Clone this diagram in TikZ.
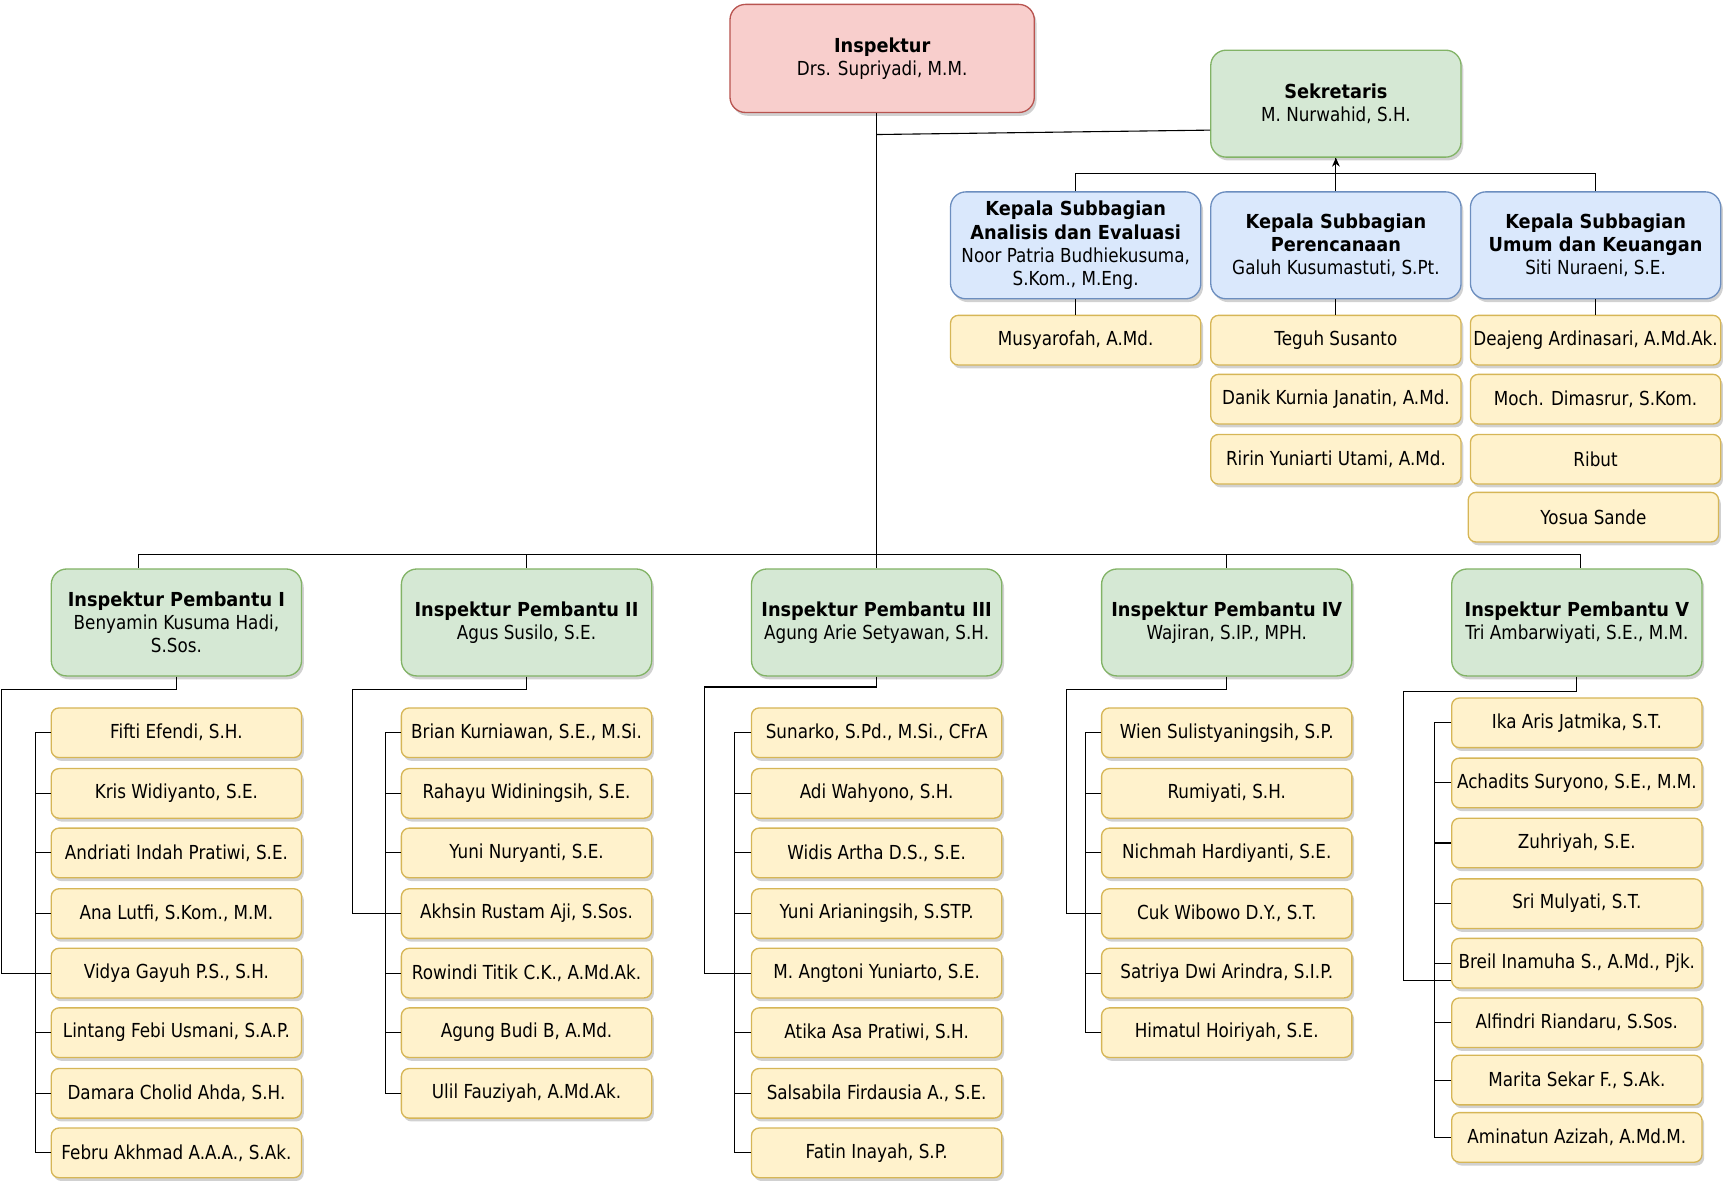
\documentclass[tikz,border=0pt]{standalone}
\usepackage{fontspec}
\setmainfont{DejaVu Sans}[UprightFeatures={FakeStretch=0.87},BoldFeatures={FakeStretch=0.92}]
\usetikzlibrary{arrows.meta,shadows}
\definecolor{insfill}{HTML}{F8CECC}
\definecolor{insline}{HTML}{B85450}
\definecolor{ipfill}{HTML}{D5E8D4}
\definecolor{ipline}{HTML}{82B366}
\definecolor{ksfill}{HTML}{DAE8FC}
\definecolor{ksline}{HTML}{6C8EBF}
\definecolor{stfill}{HTML}{FFF2CC}
\definecolor{stline}{HTML}{D6B656}

\begin{document}
\begin{tikzpicture}[x=0.5pt,y=-0.5pt,
  every node/.style={font=\fontsize{8.75}{10.5}\selectfont,align=center,inner sep=1pt},
  box/.style={draw,line width=.6pt,rounded corners=#1,
    drop shadow={shadow xshift=1pt,shadow yshift=-1.5pt,opacity=.18,fill=black}},
  insbox/.style={box=7pt,fill=insfill,draw=insline,minimum width=138pt,minimum height=49pt},
  ipbox/.style={box=7pt,fill=ipfill,draw=ipline,minimum width=113.5pt,minimum height=48.5pt},
  ksbox/.style={box=7pt,fill=ksfill,draw=ksline,minimum width=113.5pt,minimum height=48.5pt},
  staffbox/.style={box=3.5pt,fill=stfill,draw=stline,minimum width=113.5pt,minimum height=22.5pt},
  link/.style={line width=.5pt}]
\useasboundingbox (0,0) rectangle (1568,1076);

% top level
\node[insbox] (insp) at (800,53) {\textbf{Inspektur}\\Drs. Supriyadi, M.M.};
\node[ipbox] (sek) at (1211.5,94) {\textbf{Sekretaris}\\M. Nurwahid, S.H.};
\node[ksbox] (kana) at (975.5,222.5) {\textbf{Kepala Subbagian}\\\textbf{Analisis dan Evaluasi}\\Noor Patria Budhiekusuma,\\S.Kom., M.Eng.};
\node[ksbox] (kper) at (1211.5,222.5) {\textbf{Kepala Subbagian}\\\textbf{Perencanaan}\\Galuh Kusumastuti, S.Pt.};
\node[ksbox] (kumu) at (1447,222.5) {\textbf{Kepala Subbagian}\\\textbf{Umum dan Keuangan}\\Siti Nuraeni, S.E.};
\node[staffbox] (tana1) at (975.5,308.5) {Musyarofah, A.Md.};
\node[staffbox] (tper1) at (1211.5,308.5) {Teguh Susanto};
\node[staffbox] (tper2) at (1211.5,362) {Danik Kurnia Janatin, A.Md.};
\node[staffbox] (tper3) at (1211.5,416.5) {Ririn Yuniarti Utami, A.Md.};
\node[staffbox] (tumu1) at (1447,308.5) {Deajeng Ardinasari, A.Md.Ak.};
\node[staffbox] (tumu2) at (1447,362) {Moch. Dimasrur, S.Kom.};
\node[staffbox] (tumu3) at (1447,416.5) {Ribut};
\node[staffbox] (tumu4) at (1445,469) {Yosua Sande};

% inspektur pembantu
\node[ipbox] (ip1) at (160,564.5) {\textbf{Inspektur Pembantu I}\\Benyamin Kusuma Hadi,\\S.Sos.};
\node[ipbox] (ip2) at (477.5,564.5) {\textbf{Inspektur Pembantu II}\\Agus Susilo, S.E.};
\node[ipbox] (ip3) at (795,564.5) {\textbf{Inspektur Pembantu III}\\Agung Arie Setyawan, S.H.};
\node[ipbox] (ip4) at (1112.5,564.5) {\textbf{Inspektur Pembantu IV}\\Wajiran, S.IP., MPH.};
\node[ipbox] (ip5) at (1430,564.5) {\textbf{Inspektur Pembantu V}\\Tri Ambarwiyati, S.E., M.M.};

% staf irban I
\node[staffbox] (a1) at (160,664.5) {Fifti Efendi, S.H.};
\node[staffbox] (a2) at (160,719.5) {Kris Widiyanto, S.E.};
\node[staffbox] (a3) at (160,773.5) {Andriati Indah Pratiwi, S.E.};
\node[staffbox] (a4) at (160,828.5) {Ana Lutfi, S.Kom., M.M.};
\node[staffbox] (a5) at (160,882.5) {Vidya Gayuh P.S., S.H.};
\node[staffbox] (a6) at (160,936.5) {Lintang Febi Usmani, S.A.P.};
\node[staffbox] (a7) at (160,991.5) {Damara Cholid Ahda, S.H.};
\node[staffbox] (a8) at (160,1045.5) {Febru Akhmad A.A.A., S.Ak.};
% staf irban II
\node[staffbox] (b1) at (477.5,664.5) {Brian Kurniawan, S.E., M.Si.};
\node[staffbox] (b2) at (477.5,719.5) {Rahayu Widiningsih, S.E.};
\node[staffbox] (b3) at (477.5,773.5) {Yuni Nuryanti, S.E.};
\node[staffbox] (b4) at (477.5,828.5) {Akhsin Rustam Aji, S.Sos.};
\node[staffbox] (b5) at (477.5,882.5) {Rowindi Titik C.K., A.Md.Ak.};
\node[staffbox] (b6) at (477.5,936.5) {Agung Budi B, A.Md.};
\node[staffbox] (b7) at (477.5,991.5) {Ulil Fauziyah, A.Md.Ak.};
% staf irban III
\node[staffbox] (c1) at (795,664.5) {Sunarko, S.Pd., M.Si., CFrA};
\node[staffbox] (c2) at (795,719.5) {Adi Wahyono, S.H.};
\node[staffbox] (c3) at (795,773.5) {Widis Artha D.S., S.E.};
\node[staffbox] (c4) at (795,828.5) {Yuni Arianingsih, S.STP.};
\node[staffbox] (c5) at (795,882.5) {M. Angtoni Yuniarto, S.E.};
\node[staffbox] (c6) at (795,936.5) {Atika Asa Pratiwi, S.H.};
\node[staffbox] (c7) at (795,991.5) {Salsabila Firdausia A., S.E.};
\node[staffbox] (c8) at (795,1045.5) {Fatin Inayah, S.P.};
% staf irban IV
\node[staffbox] (d1) at (1112.5,664.5) {Wien Sulistyaningsih, S.P.};
\node[staffbox] (d2) at (1112.5,719.5) {Rumiyati, S.H.};
\node[staffbox] (d3) at (1112.5,773.5) {Nichmah Hardiyanti, S.E.};
\node[staffbox] (d4) at (1112.5,828.5) {Cuk Wibowo D.Y., S.T.};
\node[staffbox] (d5) at (1112.5,882.5) {Satriya Dwi Arindra, S.I.P.};
\node[staffbox] (d6) at (1112.5,936.5) {Himatul Hoiriyah, S.E.};
% staf irban V
\node[staffbox] (e1) at (1430,655.5) {Ika Aris Jatmika, S.T.};
\node[staffbox] (e2) at (1430,710) {Achadits Suryono, S.E., M.M.};
\node[staffbox] (e3) at (1430,764.5) {Zuhriyah, S.E.};
\node[staffbox] (e4) at (1430,819.5) {Sri Mulyati, S.T.};
\node[staffbox] (e5) at (1430,873.5) {Breil Inamuha S., A.Md., Pjk.};
\node[staffbox] (e6) at (1430,927.5) {Alfindri Riandaru, S.Sos.};
\node[staffbox] (e7) at (1430,979.5) {Marita Sekar F., S.Ak.};
\node[staffbox] (e8) at (1430,1031.5) {Aminatun Azizah, A.Md.M.};

% garis atas
\coordinate (j1) at (795,122);
\coordinate (bus) at (795,503);
\draw[link] (ip3.north |- insp.south) -- (ip3.north);
\draw[link] (j1) -- ([yshift=-12pt]sek.west);
\draw[link,-{Stealth[length=4pt,width=3.5pt]}] (kper.north) -- (sek.south);
\draw[link] (kana.north) -- ++(0,-16) -| (sek.south);
\draw[link] (kumu.north) -- ++(0,-16) -| (sek.south);
\draw[link] (kana.south) -- (tana1.north);
\draw[link] (kper.south) -- (tper1.north);
\draw[link] (kumu.south) -- (tumu1.north);
\draw[link] (bus) -| ([xshift=-17pt]ip1.north);
\draw[link] (bus) -| (ip2.north);
\draw[link] (bus) -| (ip4.north);
\draw[link] (bus) -| ([xshift=1.5pt]ip5.north);

% irban ke staf
\draw[link] (ip1.south) |- (1,625) |- (a5.west);
\draw[link] (ip2.south) |- (320,625) |- (b4.west);
\draw[link] (ip3.south) |- (639,623) |- (c5.west);
\draw[link] (ip4.south) |- (967,625) |- (d4.west);
\draw[link] (ip5.south) |- (1273,627) |- ([yshift=-8pt]e5.west);
\draw[link] (a1.west) -- ++(-14,0) |- (a8.west);
\draw[link] (b1.west) -- ++(-14,0) |- (b7.west);
\draw[link] (c1.west) -- ++(-15,0) |- (c8.west);
\draw[link] (d1.west) -- ++(-14,0) |- (d6.west);
\draw[link] (e1.west) -- ++(-15,0) |- (e8.west);
\foreach \s in {a2,a3,a4,a5,a6,a7,b2,b3,b4,b5,b6,d2,d3,d4,d5}
  \draw[link] (\s.west) -- ++(-14,0);
\foreach \s in {c2,c3,c4,c5,c6,c7,e2,e3,e4,e5,e6,e7}
  \draw[link] (\s.west) -- ++(-15,0);
\end{tikzpicture}
\end{document}
